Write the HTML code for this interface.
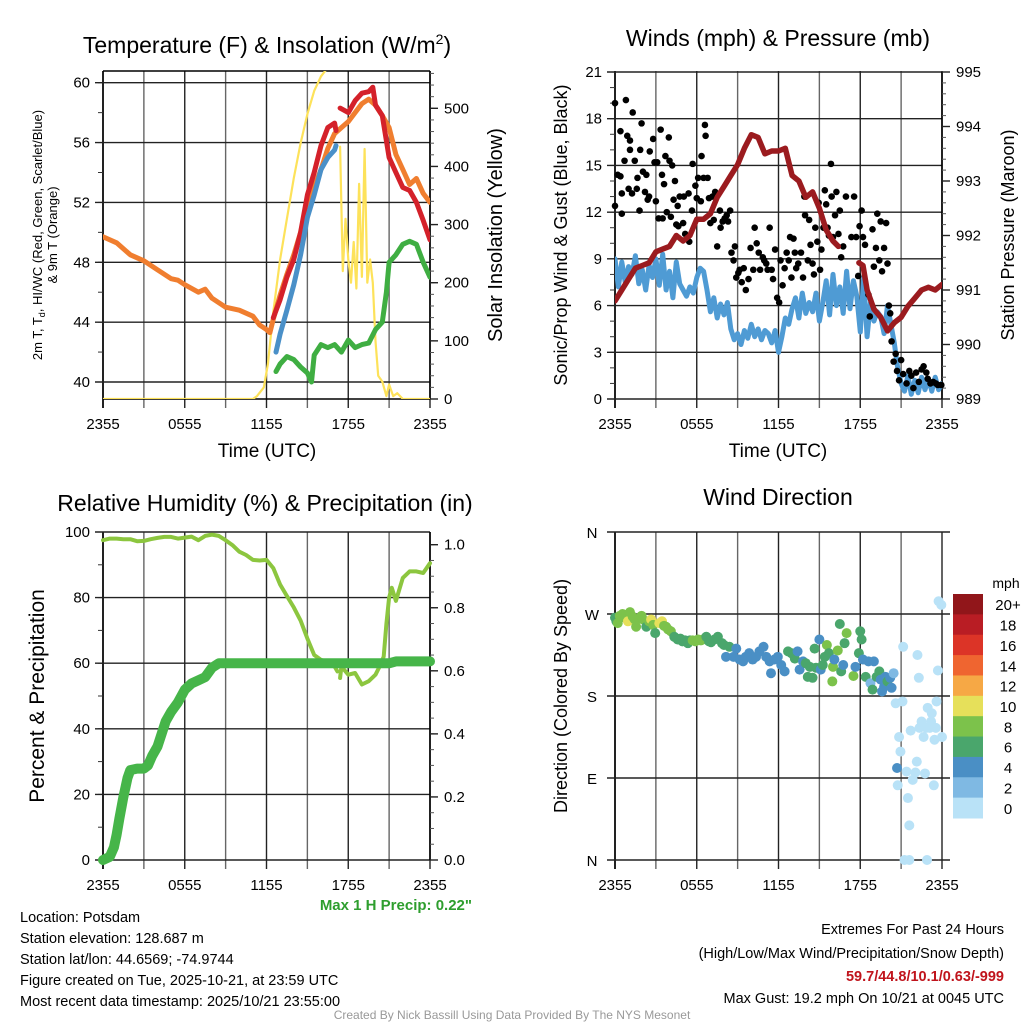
<!DOCTYPE html>
<html><head><meta charset="utf-8">
<style>
html,body{margin:0;padding:0;background:#fff;}
svg{display:block;font-family:"Liberation Sans",Arial,sans-serif;}
</style></head>
<body>
<svg id="c" width="1024" height="1024" viewBox="0 0 1024 1024" xmlns="http://www.w3.org/2000/svg">
<rect width="1024" height="1024" fill="#fff"/>
<defs>
<clipPath id="cp1"><rect x="103" y="71" width="327" height="328"/></clipPath>
<clipPath id="cp2"><rect x="615" y="71" width="327" height="328"/></clipPath>
<clipPath id="cp3"><rect x="95" y="520" width="345" height="350"/></clipPath>
<clipPath id="cp4"><rect x="605" y="525" width="345" height="345"/></clipPath>
</defs>
<g id="g1"></g>
<g id="g2"></g>
<g id="g3"></g>
<g id="g4"></g>

<text x="267" y="53" font-size="23" text-anchor="middle">Temperature (F) &amp; Insolation (W/m<tspan font-size="14" dy="-9">2</tspan><tspan dy="9">)</tspan></text>
<text x="778" y="46" font-size="23" text-anchor="middle">Winds (mph) &amp; Pressure (mb)</text>
<text x="265" y="511" font-size="23" text-anchor="middle">Relative Humidity (%) &amp; Precipitation (in)</text>
<text x="778" y="505" font-size="23" text-anchor="middle">Wind Direction</text>

<text x="267" y="457" font-size="19" text-anchor="middle">Time (UTC)</text>
<text x="778" y="457" font-size="19" text-anchor="middle">Time (UTC)</text>

<text transform="translate(42,235) rotate(-90)" font-size="13" text-anchor="middle">2m T, T<tspan font-size="9" dy="3">d</tspan><tspan dy="-3">, HI/WC (Red, Green, Scarlet/Blue)</tspan></text>
<text transform="translate(57,235) rotate(-90)" font-size="13" text-anchor="middle">&amp; 9m T (Orange)</text>
<text transform="translate(502,235) rotate(-90)" font-size="20" text-anchor="middle">Solar Insolation (Yellow)</text>
<text transform="translate(567,235) rotate(-90)" font-size="18" text-anchor="middle">Sonic/Prop Wind &amp; Gust (Blue, Black)</text>
<text transform="translate(1014,235) rotate(-90)" font-size="18" text-anchor="middle">Station Pressure (Maroon)</text>
<text transform="translate(44,696) rotate(-90)" font-size="21" text-anchor="middle">Percent &amp; Precipitation</text>
<text transform="translate(567,696) rotate(-90)" font-size="18" text-anchor="middle">Direction (Colored By Speed)</text>

<text x="472" y="910" font-size="15" font-weight="bold" fill="#2e9e2e" text-anchor="end">Max 1 H Precip: 0.22"</text>

<g font-size="14.5">
<text x="20" y="922">Location: Potsdam</text>
<text x="20" y="943">Station elevation: 128.687 m</text>
<text x="20" y="964">Station lat/lon: 44.6569; -74.9744</text>
<text x="20" y="985">Figure created on Tue, 2025-10-21, at 23:59 UTC</text>
<text x="20" y="1006">Most recent data timestamp: 2025/10/21 23:55:00</text>
</g>
<g font-size="14.5" text-anchor="end">
<text x="1004" y="934">Extremes For Past 24 Hours</text>
<text x="1004" y="958">(High/Low/Max Wind/Precipitation/Snow Depth)</text>
<text x="1004" y="981" fill="#c0141c" font-weight="bold">59.7/44.8/10.1/0.63/-999</text>
<text x="1004" y="1003">Max Gust: 19.2 mph On 10/21 at 0045 UTC</text>
</g>
<text x="512" y="1019" font-size="12" fill="#999" text-anchor="middle">Created By Nick Bassill Using Data Provided By The NYS Mesonet</text>
</svg>
<script>
// ---- data ----
const xTickLabels = ["2355","0555","1155","1755","2355"];
const orangeT = [0,1,2,3,4,5,5.5,6,7,7.5,8,9,10,11,11.5,12,12.25,12.5,13,13.5,14,14.5,15,15.5,16,16.5,17,17.5,18,18.5,19,19.5,20,20.5,21,21.5,22,22.5,23,23.5,24];
const orangeV = [49.7,49.3,48.5,48.1,47.5,46.9,46.8,46.5,46.0,46.2,45.6,45.0,44.8,44.4,43.8,43.5,43.3,44.2,45.8,47.2,48.5,50.0,51.8,53.0,54.2,55.6,56.6,57.0,57.4,58.0,58.6,58.9,58.5,57.8,57.0,55.2,54.2,53.2,53.6,52.6,52.0];
const redT = [12.5,13,13.5,14,14.5,15,15.5,16,16.5,17,17.1,null,17.4,18,18.5,19,19.5,19.8,20,20.5,21,21.5,22,22.5,23,23.5,24];
const redV = [44.3,45.5,47.0,48.2,50.0,52.5,54.0,55.8,57.0,57.3,56.8,null,58.3,58.0,58.8,59.3,59.4,59.7,58.5,57.8,55.0,54.0,53.0,52.8,52.0,50.8,49.5];
const blueT = [12.7,13,13.5,14,14.5,15,15.5,16,16.5,17,17.1];
const blueV = [42.0,43.2,44.8,46.5,48.5,51.0,52.5,54.2,55.0,55.5,55.8];
const greenT = [12.7,13,13.5,14,14.5,15,15.3,15.5,16,16.5,17,17.5,18,18.5,19,19.5,20,20.5,20.8,21,21.5,22,22.5,23,23.5,24];
const greenV = [40.7,41.2,41.7,41.5,41.0,40.6,40.0,41.8,42.5,42.3,42.5,42.0,42.8,42.3,42.5,42.6,43.5,44.0,46,48.0,48.5,49.2,49.4,49.2,48.0,47.0];
const solarT = [0,11,11.3,11.8,12.1,12.5,13,13.5,14,14.5,15,15.5,16,16.5,17,null,17.4,17.6,17.8,18.0,18.2,18.4,18.6,18.8,19.0,19.2,19.4,19.6,19.8,20.0,20.2,20.5,20.8,21.0,21.3,21.6,22,24];
const solarV = [0,0,5,20,60,150,240,310,380,440,490,530,555,570,580,null,434,220,310,240,200,270,190,370,210,430,200,240,200,100,40,30,5,25,5,10,0,0];

const windV = [9,7.2,8.8,7.5,8.5,8.0,9.2,7.4,8.3,7.0,8.6,7.8,9.0,7.3,9.3,7.0,8.2,6.5,8.8,7.4,7.0,6.6,7.2,6.8,7.8,
 8.4,8.2,7.0,5.6,6.5,5.2,6.1,5.4,6.2,4.5,3.8,4.2,3.5,4.4,3.9,4.8,4.0,4.5,3.8,4.4,4.2,3.6,4.4,3.0,
 4.0,5.2,4.8,5.8,6.5,5.2,6.8,5.5,6.2,5.6,6.8,5.0,6.2,7.6,5.4,8.0,6.0,7.2,5.5,8.2,5.8,7.6,6.6,4.3,
 7.8,4.0,6.2,5.0,5.6,5.3,4.2,6.0,4.8,3.6,2.0,1.0,0.5,1.5,0.3,1.2,0.4,1.4,0.6,1.3,0.5,1.4,0.6,1.0];
const pressT = [0,0.5,1,1.5,2,2.5,3,3.5,4,4.5,5,5.5,6,6.5,7,7.5,8,8.5,9,9.5,10,10.5,11,11.5,12,12.5,13,13.5,14,14.5,15,15.5,16,16.4,null,17.9,18.2,18.5,19,19.5,20,20.5,21,21.5,22,22.5,23,23.5,24];
const pressV = [990.8,991.0,991.2,991.4,991.45,991.5,991.7,991.75,991.8,992.0,991.9,992.0,992.3,992.3,992.4,992.7,992.9,993.1,993.3,993.6,993.85,993.8,993.5,993.55,993.55,993.6,993.1,993.0,992.7,992.8,992.5,992.1,991.9,991.8,null,991.5,991.45,991.0,990.65,990.5,990.25,990.4,990.5,990.7,990.85,991.0,991.05,991.0,991.1];
const gustT = [0,0,0.2,0.4,0.4,0.5,0.5,0.7,0.8,0.9,1.0,1.1,1.1,1.25,1.3,1.45,1.6,1.65,1.8,1.85,1.95,2.05,2.2,2.3,2.4,2.5,2.55,2.8,2.9,3.0,3.1,3.2,3.35,3.45,3.5,3.6,3.7,3.8,3.95,4.0,4.1,4.2,4.3,4.4,4.5,4.6,4.65,4.75,5.0,5.05,5.15,5.4,5.45,5.65,5.7,5.9,6.0,6.1,6.3,6.35,6.5,6.6,6.65,6.8,6.9,7.0,7.15,7.25,7.35,7.5,7.7,7.75,7.9,8.05,8.2,8.3,8.45,8.55,8.7,8.8,8.9,9.05,9.15,9.3,9.45,9.6,9.8,9.95,10.15,10.25,10.4,10.55,10.65,10.85,10.95,11.1,11.2,11.35,11.5,11.6,11.75,11.9,12.05,12.15,12.3,12.45,12.6,12.75,12.85,12.95,13.1,13.2,13.3,13.45,13.65,13.8,13.9,13.95,14.15,14.25,14.35,14.5,14.6,14.7,14.85,14.95,15.05,15.15,15.3,15.4,15.5,15.6,15.7,15.85,15.9,16.0,16.15,16.25,16.4,16.5,16.6,16.75,16.95,17.35,17.55,17.7,17.85,17.95,18.1,18.2,18.35,18.6,18.7,18.9,19.0,19.15,19.25,19.4,19.5,19.6,19.75,19.9,20.0,20.1,20.2,20.3,20.45,20.6,20.7,20.85,21.0,21.15,21.4,21.6,21.75,21.9,22.1,22.3,22.5,22.65,22.85,22.95,23.15,23.35,23.55,23.7,23.95];
const gustV = [19,12.4,14.4,17.2,14.3,11.9,13.2,15.3,19.2,16.9,13.5,16.6,16,13.2,18.4,15.3,13.5,14.2,12.1,16,17.7,14.6,13.3,14.4,12.8,13,15.9,16.7,15.2,12.7,15.2,11.6,17.3,14.4,11.6,13.8,15.6,12,16.8,15.3,11.7,15,12.8,14,11.2,12.4,11.1,13,11.3,13,10.6,13.2,10.1,12.1,15.1,13.7,12.9,14.2,12.7,15.6,14.2,17.6,16.9,14.2,12.9,11.3,13,11.5,13.3,9.8,12.1,11,11.4,11.6,11.8,11.4,12.1,9.4,8.9,9.8,7.8,8.1,8.3,7.5,8.4,7.0,7.7,9.7,8.3,11,10,9.4,8.3,9.1,8.9,8.7,8.3,11,8.3,7.7,9.6,6.5,6.2,8.9,7.3,8.4,9.4,8.9,10.4,7.8,10.3,9.4,8.4,8.7,9.4,7.8,13,11.8,8.9,11.5,9.9,8.7,8,11,10.1,12.6,8.3,9.6,11,13.4,12.5,11,10.5,15.1,13,10.4,11.8,13.3,10.6,12.1,9.1,9.8,13,10.4,13,10.4,7.9,11.1,12.1,10.4,9.9,6.7,5.3,10.9,8.5,9.7,11.9,8.9,11.4,8.2,9.7,11.3,8.7,6.0,5.5,3.7,2.4,2.9,1.8,1.2,2.5,1.6,1.0,1.8,1.5,0.7,1.7,1.1,1.9,2.1,1.7,1.3,1.0,1.1,1.0,0.9,0.9];

const rhT = [0,0.5,1,1.5,2,2.5,3,3.5,4,4.5,5,5.5,6,6.5,7,7.5,8,8.5,9,9.5,10,10.5,11,11.5,12,12.5,13,13.5,14,14.5,15,15.5,16,16.5,17,17.2,null,17.4,17.5,18,18.5,19,19.5,20,20.3,20.6,20.8,21,21.2,21.5,22,22.5,23,23.5,24];
const rhV = [97.5,98,98,97.8,97.8,97.2,97.3,97.8,98.2,98.5,98.5,98.0,98.3,98.6,97.5,98.8,99.2,98.8,97.5,96.0,94,93,91.5,91.3,91.5,89,84,80.5,77,73,67.5,62.5,61,60.5,59,57.5,null,55.5,59,56.5,57,53.5,54.5,56.5,59,62,72,80,83,79,86,88,88,87.5,90.5];
const precipT = [0,0.5,0.8,1.0,1.2,1.5,1.8,2.0,2.5,3.0,3.3,3.6,4.0,4.3,4.6,5.0,5.5,6.0,6.5,7.0,7.5,8.0,8.5,12,16,20,21,21.5,24];
const precipV = [0,0.01,0.04,0.08,0.13,0.2,0.26,0.285,0.29,0.29,0.3,0.33,0.36,0.40,0.44,0.47,0.50,0.54,0.56,0.57,0.58,0.61,0.624,0.624,0.624,0.624,0.624,0.63,0.63];

const dirT = [0,0.1,0.2,0.35,0.55,0.7,0.95,1.1,1.3,1.45,1.55,1.8,1.95,2.05,2.3,2.5,2.65,2.8,2.95,3.25,3.45,3.6,3.75,3.9,4.1,4.35,4.6,4.8,4.95,5.15,5.35,5.5,5.7,5.9,6.1,6.3,6.45,6.7,6.9,7.05,7.3,7.55,7.85,8.0,8.15,8.4,8.7,8.9,9.15,9.4,9.6,9.85,10.1,10.35,10.6,10.9,11.1,11.35,11.45,11.7,11.95,12.2,12.45,12.7,12.95,13.2,13.4,13.55,13.8,14.0,14.15,14.3,14.5,14.65,14.75,15.0,15.1,15.25,15.4,15.55,15.7,15.95,16.0,16.1,16.35,16.5,16.6,16.75,16.85,17.0,17.5,17.65,17.9,18.0,18.1,18.2,18.4,18.6,18.75,18.9,19.0,19.2,19.4,19.5,19.6,19.75,19.85,20.0,20.2,20.3,20.45,20.6,20.7,20.75,20.85,20.95,21.1,21.15,21.25,21.4,21.5,21.6,21.6,21.7,21.85,22.05,22.15,22.2,22.3,22.35,22.5,22.65,22.75,22.85,22.9,22.95,23.1,23.2,23.25,23.4,23.45,23.55,23.6,23.7,23.75,23.95,24];
const dirV = [266,262,260,268,270,266,262,272,267,264,256,265,268,264,256,262,264,258,249,260,262,257,256,253,251,245,242,243,240,241,238,241,241,240,242,241,242,245,240,239,242,245,238,236,223,234,223,232,220,218,223,227,220,223,229,234,223,218,205,220,223,214,207,229,227,221,229,209,218,216,201,212,200,232,211,242,209,214,223,236,227,196,212,220,230,259,207,214,238,249,202,212,227,251,242,220,201,218,194,187,218,201,207,198,185,190,201,196,200,189,205,172,101,82,135,119,174,234,0,97,68,38,0,142,88,96,108,225,200,145,152,135,95,145,0,167,145,152,161,82,132,145,174,208,284,280,135];
const dirS = [7,7,8,8,8,8,10,8,8,8,8,8,8,8,7,8,10,8,6,10,10,8,8,8,8,7,7,7,7,7,7,7,8,8,8,8,8,7,7,7,7,7,7,7,5,7,5,5,5,5,5,5,5,5,5,5,5,5,5,5,5,5,5,7,7,7,5,5,5,7,7,7,7,7,7,5,5,7,7,9,7,9,9,5,9,7,7,5,7,9,9,5,7,7,7,5,7,5,3,7,5,7,7,5,5,5,5,7,5,5,3,1,4,1,1,1,1,1,1,1,1,1,1,1,1,1,1,1,1,1,1,1,1,1,1,1,1,1,1,1,1,1,1,1,1,1,1];
const speedBins = ["0","2","4","6","8","10","12","14","16","18","20+"];
const binColors = ["#b9e2f7","#7fb9e3","#4a8fc5","#4aa66c","#7cc24b","#e6e05a","#f6a845","#ef6530","#dc3427","#b91d24","#91161a"];
const dirLabels = ["N","E","S","W","N"];

// ---- helpers ----
const NS="http://www.w3.org/2000/svg";
function mk(parent,tag,attrs){const e=document.createElementNS(NS,tag);for(const k in attrs)e.setAttribute(k,attrs[k]);parent.appendChild(e);return e;}
function lin(d0,d1,r0,r1){return v=>r0+(v-d0)/(d1-d0)*(r1-r0);}
function pathFrom(ts,vs,sx,sy){let d="",pen=false;for(let i=0;i<ts.length;i++){if(ts[i]===null||vs[i]===null){pen=false;continue;}d+=(pen?"L":"M")+sx(ts[i]).toFixed(1)+","+sy(vs[i]).toFixed(1);pen=true;}return d;}

function timeAxis(g,x0,x1,yb){
  const sx=lin(0,24,x0,x1);
  for(let h=0;h<=24;h+=3){
    const x=sx(h);
    const gl=mk(g,"line",{x1:x,x2:x,y1:yb-328,y2:yb+9,stroke:(h%6===0)?"#222":"#666","stroke-width":h===0?2:1.4});
    
    
  }
  xTickLabels.forEach((s,i)=>{
    const t=mk(g,"text",{x:sx(i*6),y:yb+30,"font-size":15,"text-anchor":"middle"});t.textContent=s;
    
    
  });
  return sx;
}
function leftAxis(g,x0,x1,sy,vals,labels,minors,ext){
  minors.forEach(v=>{const l=mk(g,"line",{x1:x0-5,x2:x0,y1:sy(v),y2:sy(v),stroke:"#333","stroke-width":1});
    
    });
  vals.forEach((v,i)=>{
    const l=mk(g,"line",{x1:x0-8,x2:x1+(ext||0),y1:sy(v),y2:sy(v),stroke:"#222","stroke-width":1.4});
    
    
    const t=mk(g,"text",{x:x0-13,y:sy(v)+5,"font-size":15,"text-anchor":"end"});t.textContent=labels[i];
    
    
  });
}
function rightAxis(g,x1,sy,vals,labels,minors){
  mk(g,"line",{x1:x1,x2:x1,y1:sy.top,y2:sy.bot,stroke:"#000","stroke-width":1.6});
  minors.forEach(v=>{const l=mk(g,"line",{x1:x1,x2:x1+4,y1:sy(v),y2:sy(v),stroke:"#555","stroke-width":1});
    
    });
  vals.forEach((v,i)=>{
    const l=mk(g,"line",{x1:x1,x2:x1+8,y1:sy(v),y2:sy(v),stroke:"#222","stroke-width":1.4});
    
    
    const t=mk(g,"text",{x:x1+14,y:sy(v)+5,"font-size":15});t.textContent=labels[i];
    
    
  });
}
function line(g,d,color,w,name,clip){const p=mk(g,"path",{d:d,fill:"none",stroke:color,"stroke-width":w,"stroke-linejoin":"round","stroke-linecap":"round","clip-path":clip});
  
  return p;}
function range(a,b,s){const r=[];for(let v=a;v<=b+1e-9;v+=s)r.push(+v.toFixed(4));return r;}

// ---- panel 1 ----
(function(){
  const g=document.getElementById("g1");
  const sx=timeAxis(g,103,430,399);
  const sy=lin(40,60,382,82.7);
  const si=lin(0,500,399,108.3); si.top=71; si.bot=399;
  mk(g,"line",{x1:103,x2:430,y1:71,y2:71,stroke:"#000","stroke-width":1.4});
  mk(g,"line",{x1:103,x2:430,y1:399,y2:399,stroke:"#000","stroke-width":1.4});
  const yv=[40,44,48,52,56,60];
  leftAxis(g,103,430,sy,yv,yv.map(String),range(40,60,2),0);
  const iv=[0,100,200,300,400,500];
  rightAxis(g,430,si,iv,iv.map(String),range(0,560,20));
  line(g,pathFrom(solarT,solarV,sx,si),"#fde25a",2.2,"solar-insolation-line","url(#cp1)");
  line(g,pathFrom(orangeT,orangeV,sx,sy),"#f07e2f",5,"temp-9m-line","url(#cp1)");
  line(g,pathFrom(greenT,greenV,sx,sy),"#3fae42",5,"dewpoint-line","url(#cp1)");
  line(g,pathFrom(redT,redV,sx,sy),"#d4212a",5,"temp-2m-line","url(#cp1)");
  line(g,pathFrom(blueT,blueV,sx,sy),"#4a90c8",5,"wind-chill-line","url(#cp1)");
})();

// ---- panel 2 ----
(function(){
  const g=document.getElementById("g2");
  const sx=timeAxis(g,615,942,399);
  const sy=lin(0,21,399,72);
  const sp=lin(989,995,399,72); sp.top=72; sp.bot=399;
  const yv=range(0,21,3);
  leftAxis(g,615,942,sy,yv,yv.map(String),range(0,21,1),0);
  const pv=range(989,995,1);
  rightAxis(g,942,sp,pv,pv.map(String),range(989,995,0.2));
  const wt=windV.map((v,i)=>i*0.25);
  line(g,pathFrom(wt,windV,sx,sy),"#4f9bd4",5,"sonic-wind-line","url(#cp2)");
  gustT.forEach((t,i)=>{const c=mk(g,"circle",{cx:sx(t),cy:sy(gustV[i]),r:3.3,fill:"#000"});
    
    });
  line(g,pathFrom(pressT,pressV,sx,sp),"#9b1b1f",5.5,"pressure-line","url(#cp2)");
})();

// ---- panel 3 ----
(function(){
  const g=document.getElementById("g3");
  const sx=timeAxis(g,103,430,860);
  const sy=lin(0,100,860,532);
  const spp=lin(0,1,860,544.7); spp.top=532; spp.bot=860;
  const yv=range(0,100,20);
  leftAxis(g,103,430,sy,yv,yv.map(String),range(0,100,10),0);
  const pv=range(0,1,0.2);
  rightAxis(g,430,spp,pv,pv.map(v=>v.toFixed(1)),range(0,1.0,0.05));
  line(g,pathFrom(rhT,rhV,sx,sy),"#8cc63f",4,"relative-humidity-line","url(#cp3)");
  line(g,pathFrom(precipT,precipV,sx,spp),"#46b549",10,"precipitation-line","url(#cp3)");
})();

// ---- panel 4 ----
(function(){
  const g=document.getElementById("g4");
  const sx=timeAxis(g,615,942,860);
  const sy=lin(0,360,860,532);
  dirLabels.forEach((s,i)=>{
    const y=sy(i*90);
    const l=mk(g,"line",{x1:607,x2:950,y1:y,y2:y,stroke:"#222","stroke-width":1.4});
    
    
    const t=mk(g,"text",{x:592,y:y+6,"font-size":15,"text-anchor":"middle"});t.textContent=s;
    
    
  });
  dirT.forEach((t,i)=>{
    const b=Math.min(10,Math.floor(dirS[i]/2));
    const c=mk(g,"circle",{cx:sx(t),cy:sy(dirV[i]),r:5,fill:binColors[b],"clip-path":"url(#cp4)"});
    
    
  });
  // colorbar
  const cbTop=594,cbH=224/11;
  const m=mk(g,"text",{x:1006,y:588,"font-size":14,"text-anchor":"middle"});m.textContent="mph";
  
  
  speedBins.forEach((s,i)=>{
    const k=10-i;
    const y=cbTop+i*cbH;
    const r=mk(g,"rect",{x:953,y:y,width:30,height:cbH+0.5,fill:binColors[k]});
    
    
    const t=mk(g,"text",{x:1008,y:y+cbH/2+6,"font-size":15,"text-anchor":"middle"});t.textContent=speedBins[k];
    
    
  });
})();
</script>
</body></html>
